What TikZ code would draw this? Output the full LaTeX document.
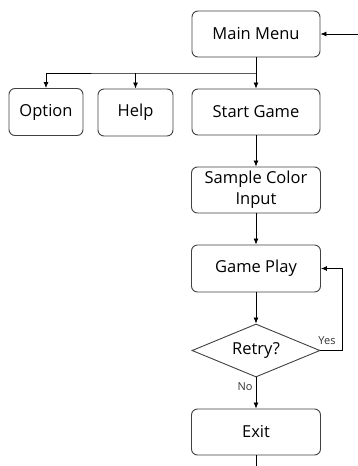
\documentclass[tikz,border=0pt]{standalone}
\usepackage{fontspec}
\setmainfont{Open Sans}
\usetikzlibrary{shapes.geometric,arrows.meta}
\begin{document}
\begin{tikzpicture}[x=1pt,y=-1pt,
  box/.style={draw=black!75,line width=0.9pt,rounded corners=6pt,inner sep=0pt,align=center,font=\fontsize{16.5}{21}\selectfont},
  dec/.style={draw=black!75,line width=0.9pt,diamond,aspect=2.4,inner sep=0pt,font=\fontsize{16.5}{21}\selectfont},
  conn/.style={line width=0.8pt,-{Latex[length=6pt,width=5pt]}},
  lbl/.style={font=\fontsize{11}{13}\selectfont,text=black!80}]
\useasboundingbox (0,0) rectangle (358,466);
\node[box,minimum width=128pt,minimum height=46pt] (main) at (256,34) {Main Menu};
\node[box,minimum width=74pt,minimum height=47pt] (opt) at (46,112) {Option};
\node[box,minimum width=75pt,minimum height=47pt] (help) at (135.5,112.5) {Help};
\node[box,minimum width=128pt,minimum height=46pt] (start) at (256,112) {Start Game};
\node[box,minimum width=129pt,minimum height=46pt] (sample) at (256,190) {Sample Color\\Input};
\node[box,minimum width=129pt,minimum height=47pt] (play) at (256,268.5) {Game Play};
\node[dec,minimum width=128pt,minimum height=53pt] (retry) at (256,350.5) {Retry?};
\node[box,minimum width=129pt,minimum height=46pt] (exit) at (256,432) {Exit};
\coordinate (inR) at (358,34);
\coordinate (br) at (256,73);
\coordinate (loop) at (342,350.5);
\coordinate (endpt) at (256,466);
\draw[conn] (inR) -- (main.east);
\draw[line width=0.8pt] (main.south) -- (br);
\draw[line width=0.8pt] (br) -| (help.north |- br) -| (opt.north |- br);
\draw[conn] (br) -- (start.north);
\draw[conn] (help.north |- br) -- (help.north);
\draw[conn] (opt.north |- br) -- (opt.north);
\draw[conn] (start.south) -- (sample.north);
\draw[conn] (sample.south) -- (play.north);
\draw[conn] (play.south) -- (retry.north);
\draw[conn] (retry.east) -- (loop) |- (play.east);
\draw[conn] (retry.south) -- (exit.north);
\draw[line width=0.8pt] (exit.south) -- (endpt);
\node[lbl] (yes) at (327,341) {Yes};
\node[lbl] (no) at (245,387) {No};
\end{tikzpicture}
\end{document}
